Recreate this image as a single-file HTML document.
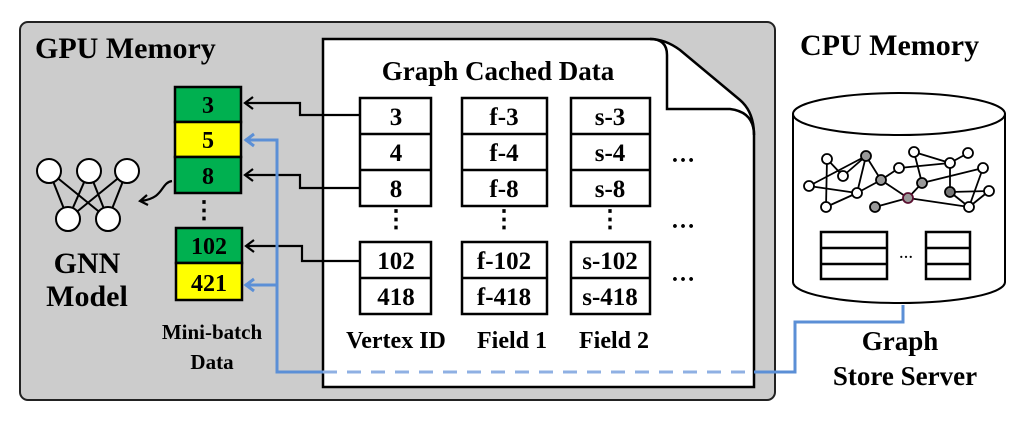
<!DOCTYPE html>
<html><head><meta charset="utf-8"><style>
body{margin:0;background:#fff;}
text{font-family:"Liberation Serif","Times New Roman",serif;font-weight:bold;fill:#000;}
</style></head><body>
<svg width="1026" height="425" viewBox="0 0 1026 425" xmlns="http://www.w3.org/2000/svg" font-family="Liberation Serif, serif" font-weight="bold">
<rect x="20" y="22" width="755" height="378" rx="8" fill="#cccccc" stroke="#222" stroke-width="2"/>
<text x="35" y="58" font-size="30" font-family="Liberation Serif, serif">GPU Memory</text>
<text x="800" y="55" font-size="30" font-family="Liberation Serif, serif">CPU Memory</text>
<!-- document -->
<path d="M323,39 L650,39 Q665,39 680,50 L740,100 Q754,112 754,135 L754,387 L323,387 Z" fill="#fff" stroke="#000" stroke-width="2.5"/>
<path d="M650,39 Q667,39 667,55 L667,109 L730,109 Q754,112 754,135" fill="none" stroke="#000" stroke-width="2.5"/>
<g font-family="Liberation Serif, serif">
<text x="498" y="80" font-size="27" text-anchor="middle">Graph Cached Data</text>
</g>
<g stroke="#000" stroke-width="2.5" fill="#fff">
<rect x="360" y="98" width="71" height="108"/><line x1="360" y1="134" x2="431" y2="134"/><line x1="360" y1="170" x2="431" y2="170"/>
<rect x="360" y="242" width="71" height="72"/><line x1="360" y1="278" x2="431" y2="278"/>
<rect x="462" y="98" width="85" height="108"/><line x1="462" y1="134" x2="547" y2="134"/><line x1="462" y1="170" x2="547" y2="170"/>
<rect x="462" y="242" width="85" height="72"/><line x1="462" y1="278" x2="547" y2="278"/>
<rect x="571" y="98" width="79" height="108"/><line x1="571" y1="134" x2="650" y2="134"/><line x1="571" y1="170" x2="650" y2="170"/>
<rect x="571" y="242" width="79" height="72"/><line x1="571" y1="278" x2="650" y2="278"/>
</g>
<g font-size="25" text-anchor="middle" font-family="Liberation Serif, serif">
<text x="396" y="125">3</text><text x="396" y="161">4</text><text x="396" y="197">8</text>
<text x="396" y="269">102</text><text x="396" y="305">418</text>
<text x="504" y="125">f-3</text><text x="504" y="161">f-4</text><text x="504" y="197">f-8</text>
<text x="504" y="269">f-102</text><text x="504" y="305">f-418</text>
<text x="610" y="125">s-3</text><text x="610" y="161">s-4</text><text x="610" y="197">s-8</text>
<text x="610" y="269">s-102</text><text x="610" y="305">s-418</text>
</g>
<g font-size="24" text-anchor="middle" font-family="Liberation Serif, serif">
<text x="396" y="227">⋮</text><text x="504" y="227">⋮</text><text x="610" y="227">⋮</text>
<text x="683" y="162">…</text><text x="683" y="228">…</text><text x="683" y="281">…</text>
<text x="396" y="348">Vertex ID</text><text x="512" y="348">Field 1</text><text x="614" y="348">Field 2</text>
</g>
<!-- minibatch -->
<g stroke="#000" stroke-width="2.5">
<rect x="175" y="87" width="66" height="35" fill="#00b050"/>
<rect x="175" y="122" width="66" height="35" fill="#ffff00"/>
<rect x="175" y="157" width="66" height="36" fill="#00b050"/>
<rect x="176" y="228" width="66" height="35" fill="#00b050"/>
<rect x="176" y="263" width="66" height="37" fill="#ffff00"/>
</g>
<g font-size="24" text-anchor="middle" font-family="Liberation Serif, serif">
<text x="208" y="113">3</text><text x="208" y="148">5</text><text x="208" y="184">8</text>
<text x="209" y="254">102</text><text x="209" y="291">421</text>
<text x="204" y="218">⋮</text>
</g>
<g font-size="21" text-anchor="middle" font-family="Liberation Serif, serif">
<text x="212" y="339">Mini-batch</text>
<text x="212" y="369">Data</text>
</g>
<!-- black arrows -->
<g fill="none" stroke="#000" stroke-width="2.2">
<polyline points="360,115 300,115 300,103 245,103"/>
<polyline points="253,97 245,103 253,109"/>
<polyline points="360,188 300,188 300,175 245,175"/>
<polyline points="253,169 245,175 253,181"/>
<polyline points="360,261 302,261 302,246 246,246"/>
<polyline points="254,240 246,246 254,252"/>
<path d="M172,181 C160,183 165,198 141,201"/>
<polyline points="147,195 140,201 148,205"/>
</g>
<!-- blue -->
<g fill="none" stroke="#5b8fd6" stroke-width="3">
<polyline points="245,140 277,140 277,372 323,372"/>
<polyline points="254,134 246,140 254,146"/>
<polyline points="277,285 245,285"/>
<polyline points="254,279 246,285 254,291"/>
<line x1="323" y1="372" x2="754" y2="372" stroke="#8fb0e3" stroke-dasharray="14,10"/>
<polyline points="754,372 795,372 795,322 903,322 903,305"/>
</g>
<!-- GNN -->
<g stroke="#000" stroke-width="2">
<line x1="49" y1="171" x2="68" y2="219"/><line x1="49" y1="171" x2="108" y2="219"/>
<line x1="89" y1="171" x2="68" y2="219"/><line x1="89" y1="171" x2="108" y2="219"/>
<line x1="127" y1="171" x2="68" y2="219"/><line x1="127" y1="171" x2="108" y2="219"/>
<g fill="#fff"><circle cx="49" cy="171" r="12"/><circle cx="89" cy="171" r="12"/><circle cx="127" cy="171" r="12"/><circle cx="68" cy="219" r="12"/><circle cx="108" cy="219" r="12"/></g>
</g>
<g font-size="30" text-anchor="middle" font-family="Liberation Serif, serif">
<text x="87" y="273">GNN</text>
<text x="87" y="306">Model</text>
</g>
<!-- cylinder -->
<path d="M793,114 L793,282 A106,21 0 0 0 1005,282 L1005,114" fill="#fff" stroke="#000" stroke-width="2"/>
<ellipse cx="899" cy="114" rx="106" ry="21" fill="#fff" stroke="#000" stroke-width="2"/>
<g stroke="#000" stroke-width="2.5" fill="none">
<rect x="821" y="232" width="66" height="47"/><line x1="821" y1="248" x2="887" y2="248"/><line x1="821" y1="264" x2="887" y2="264"/>
<rect x="926" y="232" width="44" height="47"/><line x1="926" y1="248" x2="970" y2="248"/><line x1="926" y1="264" x2="970" y2="264"/>
</g>
<text x="906" y="258" font-size="14" text-anchor="middle">…</text>
<g stroke="#000" stroke-width="1.8">
<line x1="827" y1="159" x2="843" y2="176"/><line x1="827" y1="159" x2="826" y2="207"/>
<line x1="843" y1="176" x2="866" y2="156"/><line x1="809" y1="186" x2="857" y2="193"/>
<line x1="809" y1="186" x2="866" y2="156"/><line x1="866" y1="156" x2="857" y2="193"/>
<line x1="866" y1="156" x2="881" y2="180"/><line x1="826" y1="207" x2="857" y2="193"/>
<line x1="857" y1="193" x2="881" y2="180"/><line x1="881" y1="180" x2="899" y2="168"/>
<line x1="881" y1="180" x2="908" y2="198"/><line x1="899" y1="168" x2="950" y2="163"/>
<line x1="914" y1="152" x2="922" y2="183"/><line x1="914" y1="152" x2="950" y2="163"/>
<line x1="922" y1="183" x2="908" y2="198"/><line x1="908" y1="198" x2="875" y2="207"/>
<line x1="950" y1="163" x2="968" y2="153"/><line x1="950" y1="163" x2="950" y2="192"/>
<line x1="922" y1="183" x2="983" y2="168"/><line x1="950" y1="192" x2="989" y2="191"/>
<line x1="950" y1="192" x2="969" y2="207"/><line x1="989" y1="191" x2="969" y2="207"/>
<line x1="983" y1="168" x2="969" y2="207"/><line x1="908" y1="198" x2="969" y2="207"/>
</g>
<g stroke="#000" stroke-width="1.8">
<circle cx="827" cy="159" r="5" fill="#fff"/><circle cx="843" cy="176" r="5" fill="#fff"/>
<circle cx="809" cy="186" r="5" fill="#fff"/><circle cx="826" cy="207" r="5" fill="#fff"/>
<circle cx="866" cy="156" r="5" fill="#999"/><circle cx="857" cy="193" r="5" fill="#fff"/>
<circle cx="881" cy="180" r="5" fill="#999"/><circle cx="899" cy="168" r="5" fill="#fff"/>
<circle cx="914" cy="152" r="5" fill="#fff"/><circle cx="922" cy="183" r="5" fill="#999"/>
<circle cx="875" cy="207" r="5" fill="#999"/><circle cx="908" cy="198" r="5" fill="#999" stroke="#5a1030"/>
<circle cx="950" cy="163" r="5" fill="#fff"/><circle cx="968" cy="153" r="5" fill="#fff"/>
<circle cx="983" cy="168" r="5" fill="#fff"/><circle cx="950" cy="192" r="5" fill="#777"/>
<circle cx="989" cy="191" r="5" fill="#fff"/><circle cx="969" cy="207" r="5" fill="#fff"/>
</g>
<g font-size="27" text-anchor="middle" font-family="Liberation Serif, serif">
<text x="900" y="350">Graph</text>
<text x="905" y="385">Store Server</text>
</g>
</svg>
</body></html>
